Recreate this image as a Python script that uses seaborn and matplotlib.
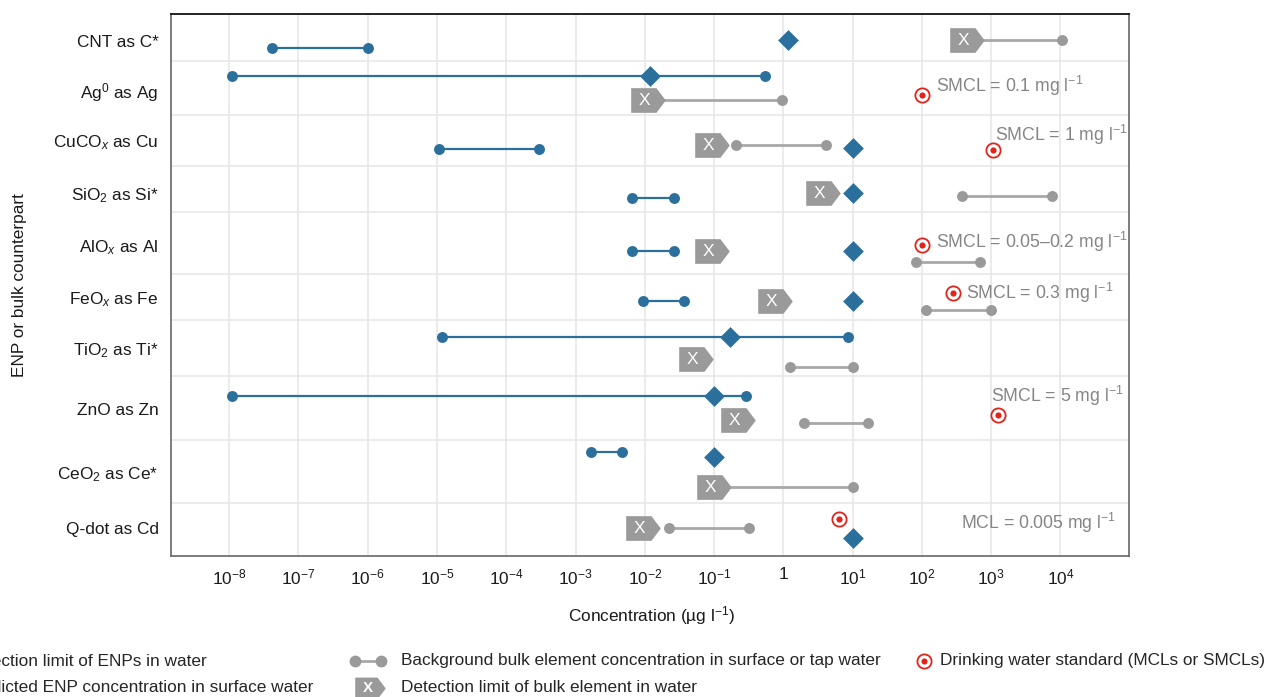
import numpy as np
import pandas as pd
import matplotlib.pyplot as plt
import seaborn as sns
from matplotlib.path import Path
from matplotlib.lines import Line2D

# ENP / bulk element rows (top to bottom)
enp_names = ["CNT as C*", "Ag$^{0}$ as Ag", "CuCO$_{x}$ as Cu", "SiO$_{2}$ as Si*", "AlO$_{x}$ as Al",
             "FeO$_{x}$ as Fe", "TiO$_{2}$ as Ti*", "ZnO as Zn", "CeO$_{2}$ as Ce*", "Q-dot as Cd"]

# concentrations in ug/l
enp_dl_low = [4.2e-8, 1.1e-8, 1.08e-5, 0.0066, 0.0066, 0.0093, 1.2e-5, 1.1e-8, 0.0017, np.nan]
enp_dl_high = [1e-6, 0.54, 3e-4, 0.026, 0.026, 0.037, 8.5, 0.29, 0.0047, np.nan]
enp_pred = [1.17, 0.0117, 10, 10, 10, 10, 0.17, 0.1, 0.1, 10]
bulk_dl = [450, 0.011, 0.094, 3.7, 0.094, 0.76, 0.055, 0.22, 0.1, 0.0095]
bg_low = [450, 0.011, 0.21, 385, 82, 116, 1.25, 2.0, 0.1, 0.022]
bg_high = [1.05e4, 0.95, 4.15, 7470, 680, 980, 10.2, 16.7, 10.2, 0.32]
std_val = [np.nan, 100, 1050, np.nan, 100, 284, np.nan, 1250, np.nan, 6.4]
std_note = ["", "SMCL = 0.1 mg l$^{-1}$", "SMCL = 1 mg l$^{-1}$", "", "SMCL = 0.05\u20130.2 mg l$^{-1}$",
            "SMCL = 0.3 mg l$^{-1}$", "", "SMCL = 5 mg l$^{-1}$", "", "MCL = 0.005 mg l$^{-1}$"]

tick_vals = [10.0 ** k for k in range(-8, 5)]
tick_text = ["$10^{%d}$" % k if k != 0 else "1" for k in range(-8, 5)]

# layout: row edges (y runs downward, in px-like units) and vertical offsets of marks inside rows
row_top = np.array([14, 61, 115, 166, 212, 274, 320, 376, 440, 503])
row_end = 556
label_off = np.array([27, 29, 25, 27, 33, 23, 28, 33, 32, 25])
off_dl = np.array([34, 15, 34, 32, 39, 27, 16.5, 20, 12, np.nan])
off_pred = np.array([26, 15, 33, 27, 39, 27, 16.5, 20, 17, 35])
off_bulk = np.array([26, 39, 30, 27, 39, 27, 39, 44, 47, 25])
off_bg = np.array([26, 39, 30, 30, 50, 36, 47, 47, 47, 25])
off_std = np.array([np.nan, 34, 35, np.nan, 33, 19, np.nan, 39, np.nan, 16])
off_note = np.array([0, 25, 20, 0, 30, 19, 0, 20, 0, 20])
note_x = [0, 160, 1140, 0, 162, 440, 0, 1000, 0, 65000]
note_ha = ["left", "left", "left", "left", "left", "left", "left", "left", "left", "right"]

blue = "#2b6f9c"
grey = "#9a9a9a"
grey_line = "#a8a8a8"
red = "#e2231a"
note_col = "#858585"
fs = 12.4

sns.set_style("whitegrid")
plt.rcParams["font.family"] = ["Liberation Sans", "DejaVu Sans"]
plt.rcParams["mathtext.fontset"] = "custom"
plt.rcParams["mathtext.rm"] = "Liberation Sans"
plt.rcParams["mathtext.it"] = "Liberation Sans:italic"
plt.rcParams["mathtext.bf"] = "Liberation Sans:bold"

# tag shaped marker for the bulk detection limit
tag = Path([(-0.5, -0.357), (0.23, -0.357), (0.5, 0), (0.23, 0.357), (-0.5, 0.357), (-0.5, -0.357)],
           [Path.MOVETO, Path.LINETO, Path.LINETO, Path.LINETO, Path.LINETO, Path.CLOSEPOLY])

W, H = 1267, 697
fig = plt.figure(figsize=(W / 100, H / 100), dpi=100)
ax = fig.add_axes([171 / W, 1 - row_end / H, (1129 - 171) / W, (row_end - 14) / H])

df = pd.DataFrame({
    "name": enp_names, "dl_low": enp_dl_low, "dl_high": enp_dl_high, "pred": enp_pred,
    "bulk": bulk_dl, "bg_low": bg_low, "bg_high": bg_high, "std": std_val, "note": std_note,
    "y_dl": row_top + off_dl, "y_pred": row_top + off_pred, "y_bulk": row_top + off_bulk,
    "y_bg": row_top + off_bg, "y_std": row_top + off_std, "y_note": row_top + off_note,
})

# background bulk concentration (grey dumbbells)
ax.hlines(df["y_bg"], df["bg_low"], df["bg_high"], color=grey_line, lw=2, zorder=2)
bg_long = pd.concat([df[["bg_low", "y_bg"]].rename(columns={"bg_low": "x", "y_bg": "y"}),
                     df[["bg_high", "y_bg"]].rename(columns={"bg_high": "x", "y_bg": "y"})])
sns.scatterplot(data=bg_long, x="x", y="y", color=grey, s=62, linewidth=0, ax=ax, zorder=3)

# ENP detection limit (blue dumbbells)
dl = df.dropna(subset=["dl_low"])
ax.hlines(dl["y_dl"], dl["dl_low"], dl["dl_high"], color=blue, lw=1.6, zorder=2)
dl_long = pd.concat([dl[["dl_low", "y_dl"]].rename(columns={"dl_low": "x", "y_dl": "y"}),
                     dl[["dl_high", "y_dl"]].rename(columns={"dl_high": "x", "y_dl": "y"})])
sns.scatterplot(data=dl_long, x="x", y="y", color=blue, s=62, linewidth=0, ax=ax, zorder=3)

# bulk detection limit (grey tags with X)
sns.scatterplot(data=df, x="bulk", y="y_bulk", marker=tag, color=grey, s=620, linewidth=0, ax=ax, zorder=4)
for _, r in df.iterrows():
    ax.annotate("X", (r["bulk"], r["y_bulk"]), xytext=(-2.5, 0), textcoords="offset points",
                ha="center", va="center", color="white", fontsize=12.5, zorder=5)

# predicted ENP concentration (diamonds)
sns.scatterplot(data=df, x="pred", y="y_pred", marker="D", color=blue, s=112, linewidth=0, ax=ax, zorder=6)

# drinking water standards (red targets)
st = df.dropna(subset=["std"])
sns.scatterplot(data=st, x="std", y="y_std", marker="o", facecolor="white", edgecolor=red, s=105,
                linewidth=1.3, ax=ax, zorder=6)
sns.scatterplot(data=st, x="std", y="y_std", marker="o", color=red, s=20, linewidth=0, ax=ax, zorder=7)
for i, r in st.iterrows():
    ax.text(note_x[i], r["y_note"], r["note"], ha=note_ha[i], va="center", color=note_col, fontsize=12.7,
            zorder=8)

# axes
ax.set_xscale("log")
ax.set_xlim(10 ** -8.84, 10 ** 4.99)
ax.set_ylim(row_end, 14)
ax.set_xticks(tick_vals)
ax.set_xticklabels(tick_text, fontsize=fs)
ax.xaxis.set_minor_locator(plt.NullLocator())
ax.set_yticks(row_top + label_off)
ax.set_yticklabels(enp_names, fontsize=fs)
ax.set_yticks(list(row_top[1:]), minor=True)
ax.grid(False)
ax.xaxis.grid(True, which="major", color="#e6e6e6", lw=1.1)
ax.yaxis.grid(True, which="minor", color="#e6e6e6", lw=1.1)
ax.tick_params(axis="y", which="both", length=0, pad=9, colors="#1a1a1a")
ax.tick_params(axis="x", which="major", length=5, width=1, color="#444444", pad=3, labelcolor="#1a1a1a")
for side in ["left", "right", "bottom"]:
    ax.spines[side].set_color("#666666")
    ax.spines[side].set_linewidth(1.2)
ax.spines["top"].set_color("#111111")
ax.spines["top"].set_linewidth(1.3)

ax.set_xlabel("Concentration (\u00b5g l$^{-1}$)", fontsize=fs, color="#1a1a1a")
ax.xaxis.set_label_coords((652 - 171) / 958, -(616 - 556) / 542)
ax.xaxis.label.set_va("center")
ax.set_ylabel("ENP or bulk counterpart", fontsize=fs, color="#1a1a1a")
ax.yaxis.set_label_coords((20 - 171) / 958, 0.5)
ax.yaxis.label.set_va("center")

# legend along the bottom (left column runs off the canvas, as in the source figure)
def fx(px):
    return px / W

def fy(py):
    return 1 - py / H

row1, row2 = 661, 688
fig.add_artist(Line2D([fx(-85), fx(-58)], [fy(row1), fy(row1)], color=blue, lw=1.6, marker="o", ms=7.5))
fig.add_artist(Line2D([fx(-70)], [fy(row2)], color=blue, marker="D", ms=9, lw=0))
fig.text(fx(-35), fy(row1), "Detection limit of ENPs in water", ha="left", va="center", fontsize=fs)
fig.text(fx(-35), fy(row2), "Predicted ENP concentration in surface water", ha="left", va="center", fontsize=fs)

fig.add_artist(Line2D([fx(355), fx(381)], [fy(row1), fy(row1)], color=grey_line, lw=2, marker="o",
                      ms=7.5, mfc=grey, mec=grey))
fig.add_artist(Line2D([fx(370)], [fy(row2)], marker=tag, ms=22, color=grey, mew=0, lw=0))
fig.text(fx(368), fy(row2), "X", ha="center", va="center", color="white", fontsize=11, fontweight="bold")
fig.text(fx(401), fy(row1), "Background bulk element concentration in surface or tap water",
         ha="left", va="center", fontsize=fs)
fig.text(fx(401), fy(row2), "Detection limit of bulk element in water", ha="left", va="center", fontsize=fs)

fig.add_artist(Line2D([fx(924)], [fy(row1)], marker="o", ms=10.2, mfc="white", mec=red, mew=1.3, lw=0))
fig.add_artist(Line2D([fx(924)], [fy(row1)], marker="o", ms=4.4, mfc=red, mec=red, mew=0, lw=0))
fig.text(fx(940), fy(row1), "Drinking water standard (MCLs or SMCLs)", ha="left", va="center", fontsize=fs)

fig.savefig("out.png", dpi=100)
